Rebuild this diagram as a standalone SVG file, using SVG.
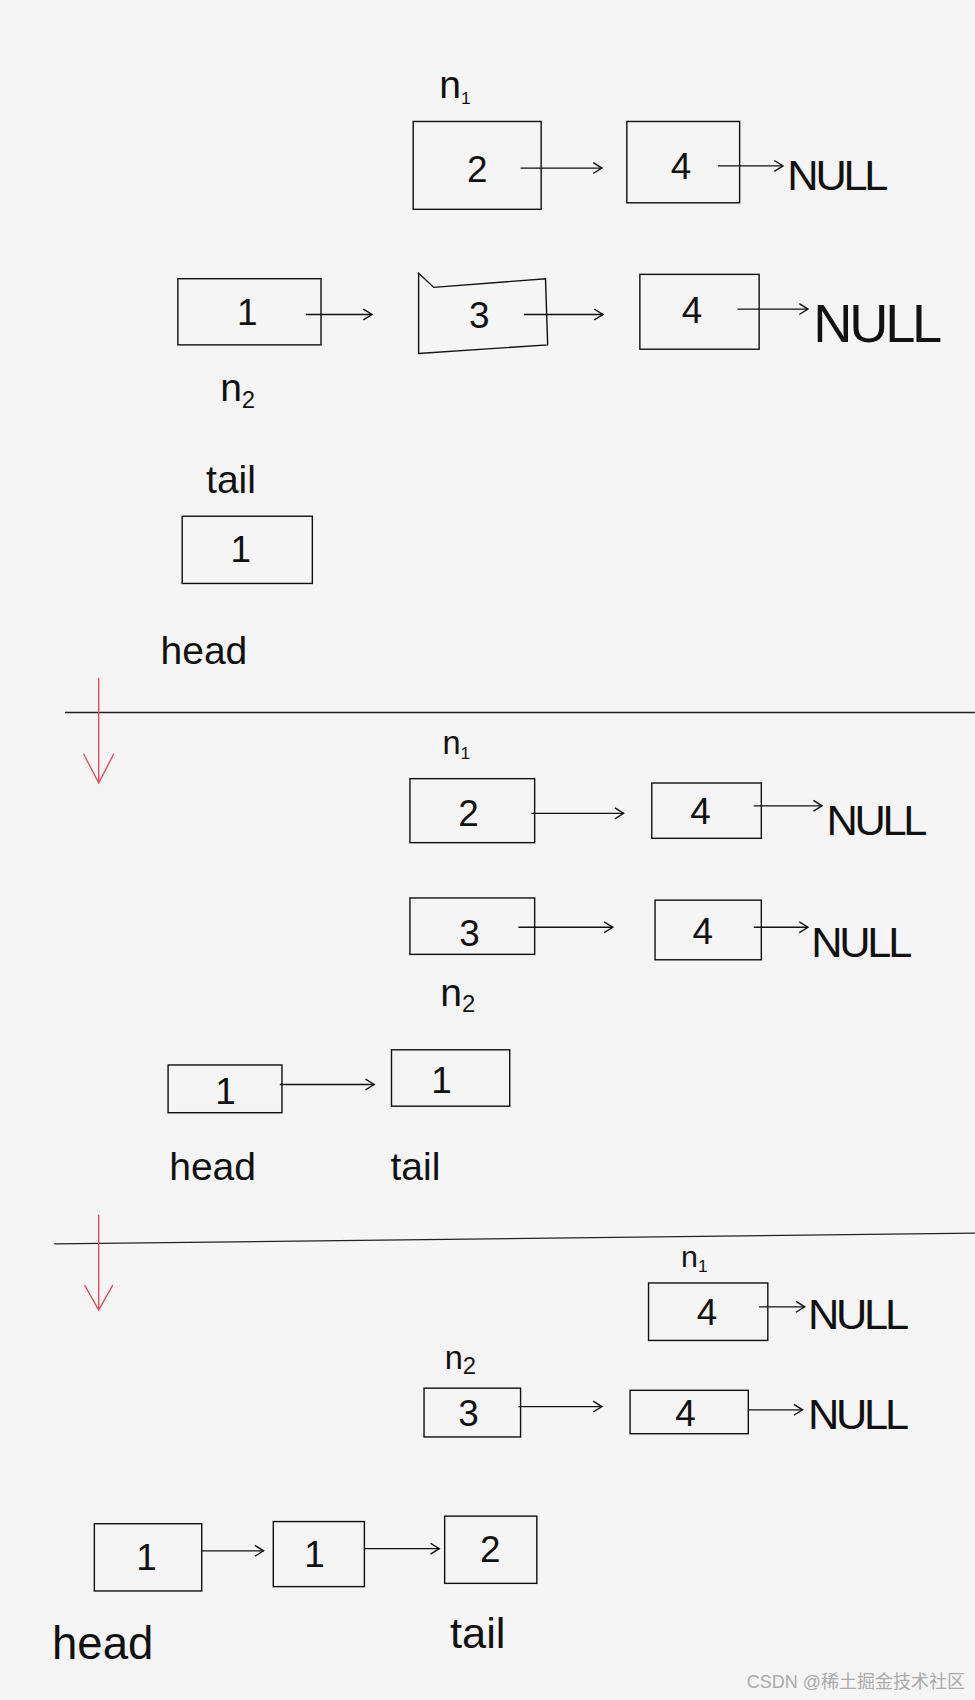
<svg xmlns="http://www.w3.org/2000/svg" width="975" height="1700" viewBox="0 0 975 1700">
<defs>
<marker id="ah" markerWidth="12" markerHeight="12" refX="10" refY="6" orient="auto" markerUnits="userSpaceOnUse">
<path d="M2,1 L10,6 L2,11" fill="none" stroke="#111" stroke-width="1.3"/>
</marker>
<style>
.b{fill:none;stroke:#111;stroke-width:1.3}
.c{fill:none;stroke:#111;stroke-width:1.2;marker-end:url(#ah)}
.t{font-family:"Liberation Sans",sans-serif;fill:#111;font-weight:300}
.v{font-size:34px;text-anchor:middle}
.l{font-size:36px}
.n{font-size:40px;letter-spacing:-3px}
.s{font-size:16px}
</style>
</defs>
<rect width="975" height="1700" fill="#f5f5f5"/>
<g transform="scale(1.0845)">
<g id="dividers">
<line x1="60" y1="657" x2="899" y2="657" stroke="#222" stroke-width="1.2"/>
<line x1="50" y1="1147" x2="899" y2="1137" stroke="#222" stroke-width="1.2"/>
<path d="M91,625 V722 M77,695 L91,722 L105,695" fill="none" stroke="#e05060" stroke-width="1.3"/>
<path d="M91,1120 V1208 M78,1185 L91,1208 L104,1185" fill="none" stroke="#e05060" stroke-width="1.3"/>
</g>
<g id="connectors">
<line class="c" x1="480" y1="155" x2="555" y2="155"/>
<line class="c" x1="662" y1="153" x2="722" y2="153"/>
<line class="c" x1="282" y1="290" x2="343" y2="290"/>
<line class="c" x1="483" y1="290" x2="556" y2="290"/>
<line class="c" x1="680" y1="285" x2="745" y2="285"/>
<line class="c" x1="490" y1="750" x2="575" y2="750"/>
<line class="c" x1="695" y1="743" x2="758" y2="743"/>
<line class="c" x1="478" y1="855" x2="565" y2="855"/>
<line class="c" x1="695" y1="855" x2="745" y2="855"/>
<line class="c" x1="258" y1="1000" x2="345" y2="1000"/>
<line class="c" x1="700" y1="1205" x2="742" y2="1205"/>
<line class="c" x1="478" y1="1297" x2="555" y2="1297"/>
<line class="c" x1="690" y1="1300" x2="740" y2="1300"/>
<line class="c" x1="186" y1="1430" x2="243" y2="1430"/>
<line class="c" x1="336" y1="1428" x2="405" y2="1428"/>
</g>
<g id="s1">
<text class="t l" x="405" y="90">n<tspan class="s" dy="6">1</tspan></text>
<g id="n1a"><rect class="b" x="381" y="112" width="118" height="81"/><text class="t v" x="440" y="168">2</text></g>
<g id="n1b"><rect class="b" x="578" y="112" width="104" height="75"/><text class="t v" x="628" y="165">4</text></g>
<text class="t n" x="726" y="175">NULL</text>
<g id="n2a"><rect class="b" x="164" y="257" width="132" height="61"/><text class="t v" x="228" y="300">1</text></g>
<g id="n2b"><path class="b" d="M386,252 L400,265 L503,257 L505,318 L386,326 Z"/><text class="t v" x="442" y="302">3</text></g>
<g id="n2c"><rect class="b" x="590" y="253" width="110" height="69"/><text class="t v" x="638" y="298">4</text></g>
<text class="t n" x="750" y="315" style="font-size:50px">NULL</text>
<text class="t l" x="203" y="370">n<tspan class="s" dy="6" style="font-size:22px">2</tspan></text>
<text class="t l" x="190" y="455">tail</text>
<g id="tailA"><rect class="b" x="168" y="476" width="120" height="62"/><text class="t v" x="222" y="518">1</text></g>
<text class="t l" x="148" y="612">head</text>
</g>
<g id="s2">
<text class="t l" x="408" y="695" style="font-size:30px">n<tspan class="s" dy="5">1</tspan></text>
<g id="m1"><rect class="b" x="378" y="718" width="115" height="59"/><text class="t v" x="432" y="762">2</text></g>
<g id="m2"><rect class="b" x="601" y="722" width="101" height="51"/><text class="t v" x="646" y="760">4</text></g>
<text class="t n" x="762" y="770">NULL</text>
<g id="m3"><rect class="b" x="378" y="828" width="115" height="52"/><text class="t v" x="433" y="872">3</text></g>
<g id="m4"><rect class="b" x="604" y="830" width="98" height="55"/><text class="t v" x="648" y="870">4</text></g>
<text class="t n" x="748" y="882">NULL</text>
<text class="t l" x="406" y="928">n<tspan class="s" dy="5" style="font-size:22px">2</tspan></text>
<g id="m5"><rect class="b" x="155" y="982" width="105" height="44"/><text class="t v" x="208" y="1018">1</text></g>
<g id="m6"><rect class="b" x="361" y="968" width="109" height="52"/><text class="t v" x="407" y="1008" font-weight="bold">1</text></g>
<text class="t l" x="156" y="1088">head</text>
<text class="t l" x="360" y="1088">tail</text>
</g>
<g id="s3">
<text class="t l" x="628" y="1168" style="font-size:28px">n<tspan class="s" dy="5">1</tspan></text>
<g id="k1"><rect class="b" x="598" y="1183" width="110" height="53"/><text class="t v" x="652" y="1222">4</text></g>
<text class="t n" x="745" y="1225">NULL</text>
<text class="t l" x="410" y="1262" style="font-size:30px">n<tspan class="s" dy="5" style="font-size:22px">2</tspan></text>
<g id="k2"><rect class="b" x="391" y="1280" width="89" height="45"/><text class="t v" x="432" y="1315">3</text></g>
<g id="k3"><rect class="b" x="581" y="1282" width="109" height="40"/><text class="t v" x="632" y="1315">4</text></g>
<text class="t n" x="745" y="1318">NULL</text>
<g id="k4"><rect class="b" x="87" y="1405" width="99" height="62"/><text class="t v" x="135" y="1448">1</text></g>
<g id="k5"><rect class="b" x="252" y="1403" width="84" height="60"/><text class="t v" x="290" y="1445">1</text></g>
<g id="k6"><rect class="b" x="410" y="1398" width="85" height="62"/><text class="t v" x="452" y="1440">2</text></g>
<text class="t l" x="48" y="1530" style="font-size:42px">head</text>
<text class="t l" x="415" y="1520" style="font-size:40px">tail</text>
</g>
</g>
<text x="965" y="1688" text-anchor="end" font-family="Liberation Sans, Noto Sans CJK SC, sans-serif" font-size="18" fill="#aaa">CSDN @稀土掘金技术社区</text>
</svg>
